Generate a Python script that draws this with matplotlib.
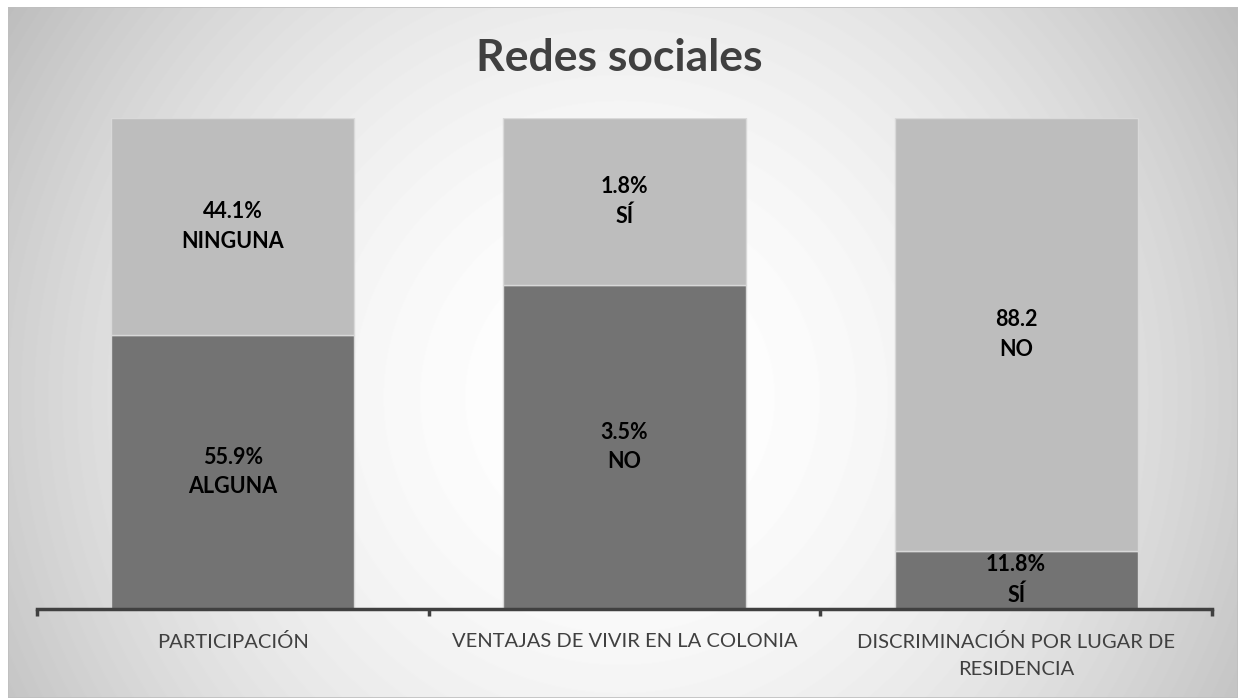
import numpy as np
import matplotlib.pyplot as plt
from matplotlib.patches import Rectangle

# datos del gráfico
categorias = ['PARTICIPACIÓN', 'VENTAJAS DE VIVIR EN LA COLONIA',
              'DISCRIMINACIÓN POR LUGAR DE\nRESIDENCIA']
valores_abajo = [55.9, 3.5, 11.8]
valores_arriba = [44.1, 1.8, 88.2]
etiquetas_abajo = ['55.9%\nALGUNA', '3.5%\nNO', '11.8%\nSÍ']
etiquetas_arriba = ['44.1%\nNINGUNA', '1.8%\nSÍ', '88.2\nNO']

plt.rcParams['font.family'] = ['Lato', 'DejaVu Sans']

W, H = 1238, 698
fig = plt.figure(figsize=(W / 100, H / 100), dpi=100)
fig.patch.set_facecolor('white')

# fondo con degradado radial
bg = fig.add_axes([8 / W, 0, 1 - 8 / W, (H - 7) / H])
yy, xx = np.mgrid[0:H - 7, 0:W - 8]
d2 = (xx - 612) ** 2 + (yy - 390) ** 2
gris = np.clip(255 - 1.25e-4 * d2, 190, 255) / 255
bg.imshow(gris, cmap='gray', vmin=0, vmax=1, aspect='auto',
          extent=[0, 1, 0, 1], origin='upper')
bg.add_patch(Rectangle((0, 0), 1, 1, transform=bg.transAxes, fill=False,
                       edgecolor='#bfbfbf', linewidth=1.2))
bg.axis('off')

# ejes del gráfico
ax = fig.add_axes([37 / W, (H - 609) / H, (1212 - 37) / W, (609 - 118) / H])
ax.patch.set_alpha(0)

tot = np.array(valores_abajo) + np.array(valores_arriba)
abajo = np.array(valores_abajo) / tot
arriba = np.array(valores_arriba) / tot
x = np.arange(len(categorias))
ancho = 0.62

ax.bar(x, abajo, ancho, color='#737373', edgecolor='#d9d9d9', linewidth=1)
ax.bar(x, arriba, ancho, bottom=abajo, color='#bdbdbd', edgecolor='#d9d9d9',
       linewidth=1)

for i in x:
    ax.text(i, abajo[i] / 2, etiquetas_abajo[i], ha='center', va='center',
            fontsize=15.5, fontweight='bold', color='black', linespacing=1.5)
    ax.text(i, abajo[i] + arriba[i] / 2, etiquetas_arriba[i], ha='center',
            va='center', fontsize=15.5, fontweight='bold', color='black',
            linespacing=1.5)

ax.set_xlim(-0.5, 2.5)
ax.set_ylim(0, 1)
ax.set_yticks([])
for s in ['left', 'right', 'top']:
    ax.spines[s].set_visible(False)
ax.spines['bottom'].set_color('#404040')
ax.spines['bottom'].set_linewidth(2.5)
ax.set_xticks([-0.5, 0.5, 1.5, 2.5], minor=False)
ax.set_xticklabels([])
ax.tick_params(axis='x', length=5, width=2.5, color='#404040')
ax.set_xticks(x, minor=True)
ax.set_xticklabels(categorias, minor=True, linespacing=1.75)
ax.tick_params(axis='x', which='minor', length=0, pad=17, labelsize=14.5,
               labelcolor='#404040')

fig.text(0.5, (H - 58) / H, 'Redes sociales', ha='center', va='center',
         fontsize=32, fontweight='bold', color='#404040')

fig.savefig('out.png', dpi=100)
